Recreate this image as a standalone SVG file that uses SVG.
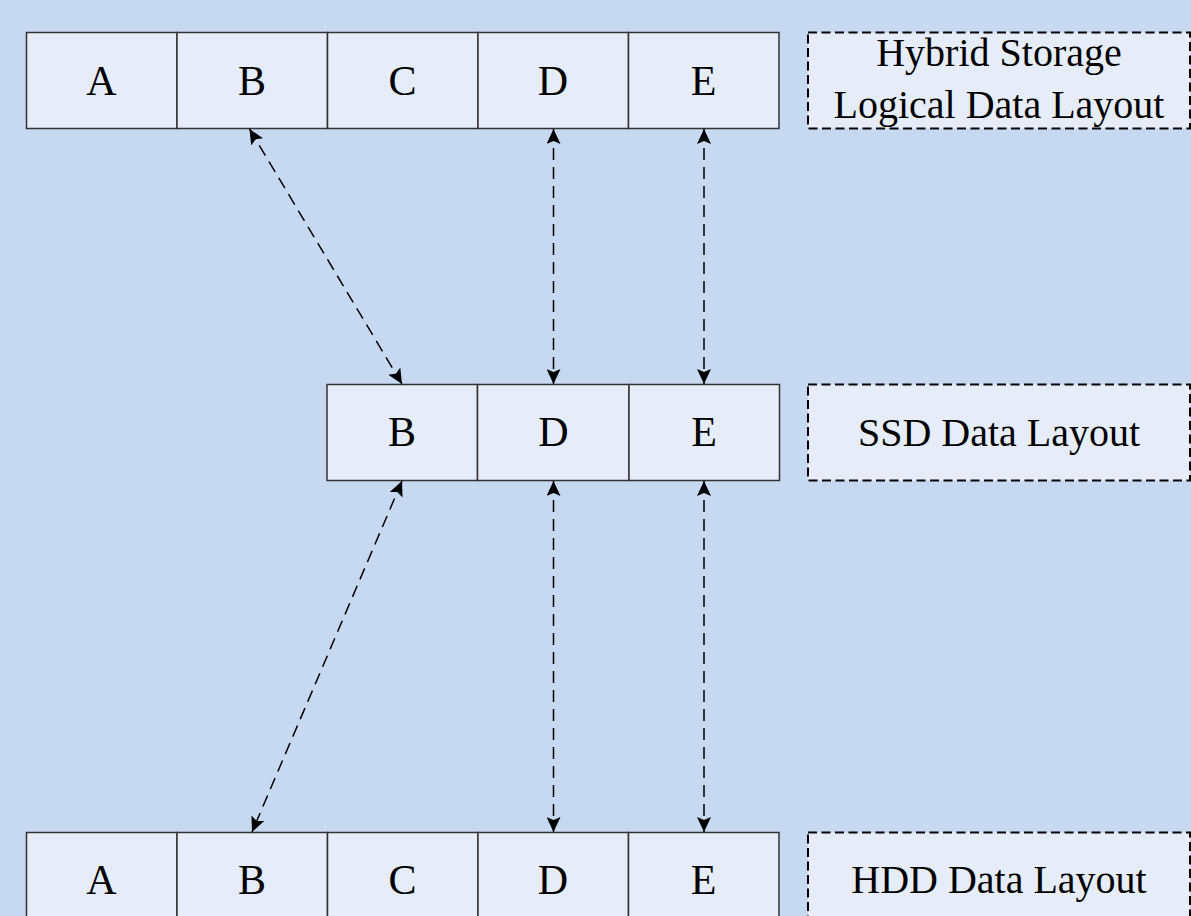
<svg xmlns="http://www.w3.org/2000/svg" width="1191" height="916" viewBox="0 0 1191 916">
<defs>
<style>
.cell{fill:#e6edf8;stroke:#333;stroke-width:1.5}
.lbl{fill:#e6edf8;stroke:#000;stroke-width:2;stroke-dasharray:9 4.5}
.t{font-family:"Liberation Serif","Times New Roman",serif;font-size:42px;fill:#000;text-anchor:middle}
.lt{font-family:"Liberation Serif","Times New Roman",serif;font-size:40px;fill:#000;text-anchor:middle}
.c{fill:none;stroke:#000;stroke-width:1.5;stroke-dasharray:12 7;marker-start:url(#ah);marker-end:url(#ah)}
</style>
<marker id="ah" viewBox="0 0 15 14" refX="15" refY="7" markerWidth="15" markerHeight="14" markerUnits="userSpaceOnUse" orient="auto-start-reverse">
<path d="M0,0 L15,7 L0,14 L3,7 Z" fill="#000"/>
</marker>
</defs>
<rect x="0" y="0" width="1191" height="916" fill="#c6d9f0"/>

<g id="top-row">
<g id="top-A"><rect class="cell" x="26.5" y="32.5" width="150.5" height="96"/><text class="t" x="101.5" y="95">A</text></g>
<g id="top-B"><rect class="cell" x="177" y="32.5" width="150.5" height="96"/><text class="t" x="252" y="95">B</text></g>
<g id="top-C"><rect class="cell" x="327.5" y="32.5" width="150.5" height="96"/><text class="t" x="402.5" y="95">C</text></g>
<g id="top-D"><rect class="cell" x="478" y="32.5" width="150.5" height="96"/><text class="t" x="553" y="95">D</text></g>
<g id="top-E"><rect class="cell" x="628.5" y="32.5" width="150.5" height="96"/><text class="t" x="703.5" y="95">E</text></g>
</g>
<g id="label-hybrid"><rect class="lbl" x="808" y="32.5" width="382" height="96"/><text class="lt" x="999" y="66">Hybrid Storage</text><text class="lt" x="999" y="118">Logical Data Layout</text></g>

<g id="ssd-row">
<g id="ssd-B"><rect class="cell" x="327" y="384.5" width="150.5" height="96"/><text class="t" x="402" y="446">B</text></g>
<g id="ssd-D"><rect class="cell" x="477.5" y="384.5" width="151.5" height="96"/><text class="t" x="553.5" y="446">D</text></g>
<g id="ssd-E"><rect class="cell" x="629" y="384.5" width="150.5" height="96"/><text class="t" x="704" y="446">E</text></g>
</g>
<g id="label-ssd"><rect class="lbl" x="808" y="384.5" width="382" height="96"/><text class="lt" x="999" y="446">SSD Data Layout</text></g>

<g id="hdd-row">
<g id="hdd-A"><rect class="cell" x="26.5" y="832.5" width="150.5" height="96"/><text class="t" x="101.5" y="894">A</text></g>
<g id="hdd-B"><rect class="cell" x="177" y="832.5" width="150.5" height="96"/><text class="t" x="252" y="894">B</text></g>
<g id="hdd-C"><rect class="cell" x="327.5" y="832.5" width="150.5" height="96"/><text class="t" x="402.5" y="894">C</text></g>
<g id="hdd-D"><rect class="cell" x="478" y="832.5" width="150.5" height="96"/><text class="t" x="553" y="894">D</text></g>
<g id="hdd-E"><rect class="cell" x="628.5" y="832.5" width="150.5" height="96"/><text class="t" x="703.5" y="894">E</text></g>
</g>
<g id="label-hdd"><rect class="lbl" x="808" y="832.5" width="382" height="96"/><text class="lt" x="999" y="893">HDD Data Layout</text></g>

<g id="connectors">
<line class="c" x1="249.5" y1="129" x2="402" y2="384"/>
<line class="c" x1="553.5" y1="129" x2="553.5" y2="384"/>
<line class="c" x1="704" y1="129" x2="704" y2="384"/>
<line class="c" x1="402" y1="481" x2="252" y2="832"/>
<line class="c" x1="553.5" y1="481" x2="553.5" y2="832"/>
<line class="c" x1="704" y1="481" x2="704" y2="832"/>
</g>
</svg>
